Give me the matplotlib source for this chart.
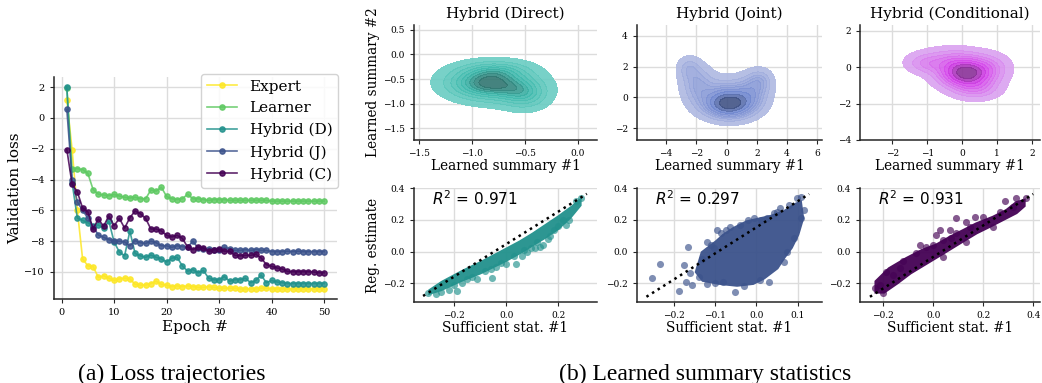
import numpy as np
import matplotlib
matplotlib.use("Agg")
import matplotlib.pyplot as plt
from matplotlib.colors import LinearSegmentedColormap

plt.rcParams['font.family'] = 'serif'
plt.rcParams['font.serif'] = ['DejaVu Serif']
plt.rcParams['mathtext.fontset'] = 'dejavusans'

# ---- loss trajectories ----
epochs = list(range(1, 51))
expert = [1.15, -2.05, -6.0, -9.15, -9.6, -9.65, -10.35, -10.25, -10.4, -10.55,
          -10.45, -10.4, -10.45, -10.8, -10.85, -10.85, -10.75, -10.6, -10.8, -10.85,
          -10.95, -10.9, -10.95, -10.9, -10.95, -11.0, -11.0, -10.95, -11.0, -11.05,
          -11.05, -11.05, -11.05, -11.1, -11.1, -11.1, -11.1, -11.05, -11.05, -11.1,
          -11.1, -11.1, -11.1, -11.1, -11.1, -11.1, -11.1, -11.1, -11.1, -11.1]
learner = [1.95, -3.3, -3.3, -3.35, -3.6, -4.65, -4.95, -5.0, -5.05, -4.97,
           -5.07, -5.15, -5.2, -5.15, -5.25, -5.25, -4.68, -4.75, -4.5, -5.1,
           -5.25, -5.3, -5.25, -4.95, -5.25, -5.25, -5.3, -5.35, -5.3, -5.3,
           -5.3, -5.35, -5.35, -5.35, -5.35, -5.35, -5.35, -5.35, -5.35, -5.4,
           -5.4, -5.4, -5.4, -5.4, -5.4, -5.4, -5.4, -5.4, -5.4, -5.4]
hybrid_d = [2.0, -4.2, -6.5, -6.65, -6.8, -7.0, -6.95, -7.15, -6.7, -8.05,
            -8.7, -8.95, -7.35, -8.8, -8.95, -9.05, -8.9, -9.05, -9.15, -9.35,
            -9.1, -9.05, -9.6, -9.95, -9.85, -10.05, -9.9, -10.4, -10.5, -10.5,
            -10.3, -10.6, -10.5, -10.5, -10.4, -10.7, -10.55, -10.2, -10.7, -10.55,
            -10.65, -10.7, -10.75, -10.75, -10.75, -10.75, -10.75, -10.75, -10.75, -10.75]
hybrid_j = [0.55, -4.0, -5.45, -6.0, -6.5, -7.05, -7.6, -7.75, -7.9, -8.0,
            -8.0, -8.05, -8.3, -7.97, -8.1, -8.15, -8.0, -8.1, -8.3, -8.3,
            -8.4, -8.3, -8.35, -8.4, -8.0, -8.45, -8.5, -8.5, -8.55, -8.55,
            -8.4, -8.5, -8.6, -8.6, -8.55, -8.6, -8.55, -8.6, -8.6, -8.68,
            -8.68, -8.68, -8.65, -8.68, -8.65, -8.68, -8.68, -8.68, -8.68, -8.68]
hybrid_c = [-2.05, -4.3, -4.8, -5.85, -6.1, -7.2, -6.56, -7.04, -6.35, -7.0,
            -6.52, -7.15, -6.48, -6.04, -6.22, -6.52, -7.21, -7.21, -7.34, -7.62,
            -7.73, -7.62, -7.82, -8.38, -8.55, -8.38, -8.45, -8.66, -8.55, -8.5,
            -8.66, -8.66, -8.92, -8.95, -8.92, -8.92, -8.85, -9.09, -9.52, -9.63,
            -9.74, -9.8, -9.96, -9.98, -9.98, -9.98, -9.98, -10.0, -10.05, -10.05]
loss_names = ['Expert', 'Learner', 'Hybrid (D)', 'Hybrid (J)', 'Hybrid (C)']
loss_colors = ['#fde725', '#5ec962', '#21918c', '#3b528b', '#440154']

# ---- learned summaries: density components (cx, cy, sx, sy, weight) ----
direct_kde = [(-0.77, -0.62, 0.24, 0.21, 1.0),
              (-1.00, -0.55, 0.20, 0.20, 0.30),
              (-0.50, -0.82, 0.14, 0.19, 0.27),
              (-0.76, -0.32, 0.20, 0.13, 0.22)]
joint_kde = [(0.15, -0.45, 1.1, 0.6, 1.0),
             (-1.9, 0.8, 0.7, 0.8, 0.30),
             (-2.5, 1.9, 0.5, 0.5, 0.08),
             (1.6, 0.4, 0.8, 0.7, 0.30),
             (2.2, 1.1, 0.55, 0.5, 0.10),
             (-0.2, 0.5, 0.8, 0.6, 0.15)]
cond_kde = [(0.1, -0.35, 0.5, 0.5, 1.0),
            (-1.1, 0.2, 0.35, 0.35, 0.10),
            (0.4, -1.2, 0.45, 0.4, 0.20),
            (-0.3, 0.4, 0.6, 0.45, 0.30),
            (0.8, 0.0, 0.4, 0.5, 0.15)]

# ---- regression estimates vs sufficient statistic ----
direct_core_x = [-0.30, -0.25, -0.17, -0.10, -0.03, 0.05, 0.10, 0.15, 0.20, 0.25, 0.29,
                 0.29, 0.25, 0.20, 0.15, 0.10, 0.05, 0.0, -0.05, -0.10, -0.17, -0.25, -0.30]
direct_core_y = [-0.24, -0.185, -0.115, -0.06, 0.0, 0.07, 0.12, 0.175, 0.23, 0.29, 0.345,
                 0.29, 0.21, 0.135, 0.08, 0.03, -0.02, -0.065, -0.105, -0.145, -0.19, -0.25, -0.275]
direct_pts_x = [-0.30, -0.252, -0.188, -0.112, -0.054, 0.036, 0.094, 0.13, 0.14, 0.183, 0.20, 0.22,
                0.286, 0.27, -0.20, -0.15, -0.08, -0.02, 0.03, 0.07, 0.12, 0.17, 0.24, -0.22,
                -0.13, -0.06, 0.0, 0.08, 0.16, 0.23, -0.27, -0.17, -0.04, 0.06, 0.11]
direct_pts_y = [-0.26, -0.253, -0.249, -0.173, -0.169, -0.078, 0.021, 0.031, 0.045, 0.137, 0.16, 0.2,
                0.34, 0.32, -0.21, -0.17, -0.12, -0.07, -0.03, 0.01, 0.06, 0.10, 0.20, -0.24,
                -0.16, -0.11, -0.08, 0.0, 0.08, 0.17, -0.27, -0.2, -0.1, -0.03, 0.02]

joint_core_x = [-0.15, -0.135, -0.10, -0.082, -0.057, -0.025, 0.034, 0.066, 0.091, 0.11,
                0.116, 0.104, 0.088, 0.07, 0.053, 0.02, -0.007, -0.047, -0.09, -0.132]
joint_core_y = [-0.13, 0.0, 0.07, 0.112, 0.155, 0.197, 0.232, 0.262, 0.305, 0.325,
                0.21, 0.105, 0.021, -0.042, -0.11, -0.175, -0.21, -0.222, -0.21, -0.19]
joint_pts_x = [-0.254, -0.234, -0.189, -0.177, -0.165, -0.161, -0.156, -0.17, -0.133, -0.104,
               -0.11, -0.096, -0.085, -0.064, -0.04, -0.007, 0.01, 0.042, 0.058, 0.078,
               0.099, 0.108, 0.107, 0.115, 0.074, 0.066, 0.091, -0.051, -0.08, -0.03,
               0.009, -0.10, 0.03, -0.14, -0.12, -0.12, -0.075, -0.02, 0.025, 0.05]
joint_pts_y = [-0.165, -0.08, -0.249, -0.085, 0.031, -0.137, -0.211, -0.19, -0.047, 0.021,
               0.04, 0.137, 0.12, 0.158, 0.17, 0.21, 0.2, 0.242, 0.274, 0.295,
               0.337, 0.346, 0.21, 0.26, 0.0, -0.064, 0.084, -0.257, -0.19, -0.22,
               -0.179, -0.2, -0.19, -0.16, -0.205, 0.06, 0.135, 0.2, 0.215, 0.25]

cond_core_x = [-0.235, -0.18, -0.11, -0.045, 0.01, 0.065, 0.118, 0.17, 0.237, 0.29, 0.33, 0.37,
               0.37, 0.336, 0.283, 0.23, 0.176, 0.11, 0.045, -0.022, -0.088, -0.14, -0.195, -0.235]
cond_core_y = [-0.185, -0.1, -0.035, 0.018, 0.05, 0.1, 0.142, 0.184, 0.226, 0.268, 0.318, 0.336,
               0.285, 0.238, 0.195, 0.152, 0.11, 0.047, -0.016, -0.08, -0.143, -0.205, -0.265, -0.265]
cond_pts_x = [-0.053, -0.027, 0.027, 0.067, 0.073, 0.093, 0.133, 0.147, 0.167, 0.213, 0.267,
              0.287, 0.333, 0.373, 0.32, 0.013, 0.04, -0.233, -0.213, -0.2, -0.16, -0.133,
              0.04, 0.133, 0.24, -0.19, -0.12, -0.07, 0.0, 0.09, 0.2]
cond_pts_y = [0.042, 0.031, 0.137, 0.137, 0.084, 0.21, 0.189, 0.158, 0.221, 0.189, 0.252,
              0.32, 0.337, 0.337, 0.284, 0.105, 0.074, -0.232, -0.211, -0.263, -0.148, -0.105,
              -0.032, 0.063, 0.158, -0.13, -0.06, -0.01, 0.04, 0.12, 0.22]

# dotted reference line ends (x0, x1, y0, y1)
direct_line = [-0.32, 0.31, -0.28, 0.365]
joint_line = [-0.267, 0.128, -0.285, 0.364]
cond_line = [-0.253, 0.40, -0.285, 0.364]

r2_values = [0.971, 0.297, 0.931]
titles = ['Hybrid (Direct)', 'Hybrid (Joint)', 'Hybrid (Conditional)']
panel_colors = ['#21918c', '#3b528b', '#440154']
# density fills: outer band -> middle -> peak
density_colors = [['#6fcfc5', '#3db8ab', '#2f6d69'],
                  ['#b4bde3', '#6f86cf', '#34446f'],
                  ['#dbaaf0', '#d540eb', '#7a2e86']]


def draw_density(ax, comps, xlim, ylim, colors):
    gx = np.linspace(xlim[0], xlim[1], 300)
    gy = np.linspace(ylim[0], ylim[1], 300)
    X, Y = np.meshgrid(gx, gy)
    Z = np.zeros_like(X)
    for cx, cy, sx, sy, w in comps:
        Z += w / (sx * sy) * np.exp(-0.5 * (((X - cx) / sx) ** 2 + ((Y - cy) / sy) ** 2))
    # iso-proportion levels, 5% .. 100%
    vals = np.sort(Z.ravel())[::-1]
    cum = np.cumsum(vals) / vals.sum()
    idx = np.searchsorted(cum, 1 - np.linspace(0.05, 1, 10))
    levels = np.take(vals, idx, mode='clip')
    cmap = LinearSegmentedColormap.from_list('dens', [(0, colors[0]), (0.65, colors[1]), (1, colors[2])])
    ax.contourf(X, Y, Z, levels=levels, cmap=cmap, alpha=0.9)


def style_axes(ax, tick_size):
    ax.grid(True, color='#dcdcdc', lw=1.0)
    ax.set_axisbelow(True)
    for side in ['top', 'right']:
        ax.spines[side].set_visible(False)
    for side in ['left', 'bottom']:
        ax.spines[side].set_color('#262626')
        ax.spines[side].set_linewidth(1.1)
    ax.tick_params(labelsize=tick_size, length=3, width=0.8, color='#262626')


fig = plt.figure(figsize=(10.42, 3.83), dpi=100)

# (a) loss trajectories
ax = fig.add_axes([0.0518, 0.2193, 0.2716, 0.5796])
for name, vals, col in zip(loss_names, [expert, learner, hybrid_d, hybrid_j, hybrid_c], loss_colors):
    ax.plot(epochs, vals, marker='o', ms=3.8, lw=1.2, color=col, alpha=0.85, label=name)
style_axes(ax, 7)
ax.set_xticks([0, 10, 20, 30, 40, 50])
ax.set_yticks([-10, -8, -6, -4, -2, 0, 2])
ax.set_xlabel('Epoch #', fontsize=11, labelpad=2)
ax.set_ylabel('Validation loss', fontsize=11, labelpad=2)
ax.legend(loc='upper right', bbox_to_anchor=(1.005, 1.015), borderaxespad=0,
          fontsize=11, framealpha=0.85)

# (b) learned summary statistics
cols_x = [(0.3973, 0.1756), (0.6113, 0.1775), (0.8253, 0.1727)]
kde_sets = [direct_kde, joint_kde, cond_kde]
kde_xlim = [(-1.547, 0.18), (-5.92, 6.3), (-2.92, 2.22)]
kde_ylim = [(-1.74, 0.6), (-2.76, 4.69), (-4.0, 2.31)]
kde_xticks = [[-1.5, -1.0, -0.5, 0.0], [-4, -2, 0, 2, 4, 6], [-2, -1, 0, 1, 2]]
kde_yticks = [[-1.5, -1.0, -0.5, 0.0, 0.5], [-2, 0, 2, 4], [-4, -2, 0, 2]]

cores = [(direct_core_x, direct_core_y), (joint_core_x, joint_core_y), (cond_core_x, cond_core_y)]
points = [(direct_pts_x, direct_pts_y), (joint_pts_x, joint_pts_y), (cond_pts_x, cond_pts_y)]
lines = [direct_line, joint_line, cond_line]
reg_xlim = [(-0.355, 0.349), (-0.29, 0.159), (-0.293, 0.427)]
reg_xticks = [[-0.2, 0.0, 0.2], [-0.2, -0.1, 0.0, 0.1], [-0.2, 0.0, 0.2, 0.4]]

for i in range(3):
    x0, w = cols_x[i]
    col = panel_colors[i]

    ax = fig.add_axes([x0, 0.6345, w, 0.3003])
    draw_density(ax, kde_sets[i], kde_xlim[i], kde_ylim[i], density_colors[i])
    ax.set_xlim(kde_xlim[i])
    ax.set_ylim(kde_ylim[i])
    ax.set_xticks(kde_xticks[i])
    ax.set_yticks(kde_yticks[i])
    style_axes(ax, 6.5)
    ax.set_title(titles[i], fontsize=11, pad=5)
    ax.set_xlabel('Learned summary #1', fontsize=9.8, labelpad=1)
    if i == 0:
        ax.set_ylabel('Learned summary #2', fontsize=9.8, labelpad=2)

    ax = fig.add_axes([x0, 0.2115, w, 0.2977])
    cx, cy = cores[i]
    ax.fill(cx, cy, color=col, alpha=0.95, lw=0, zorder=2)
    px, py = points[i]
    ax.scatter(px, py, s=26, color=col, alpha=0.65, lw=0, zorder=3)
    lx0, lx1, ly0, ly1 = lines[i]
    ax.plot([lx0, lx1], [ly0, ly1], ls=':', color='black', lw=1.8, zorder=4)
    ax.set_xlim(reg_xlim[i])
    ax.set_ylim(-0.318, 0.402)
    ax.set_xticks(reg_xticks[i])
    ax.set_yticks([-0.2, 0.0, 0.2, 0.4])
    style_axes(ax, 6.5)
    ax.set_xlabel('Sufficient stat. #1', fontsize=9.8, labelpad=1)
    if i == 0:
        ax.set_ylabel('Reg. estimate', fontsize=9.8, labelpad=2)
    ax.text(0.1, 0.985, '$R^2$ = %.3f' % r2_values[i], transform=ax.transAxes,
            family='DejaVu Sans', fontsize=11, va='top', ha='left')

fig.text(172 / 1042, 0.009, '(a) Loss trajectories', family='Liberation Serif',
         fontsize=17, ha='center', va='baseline')
fig.text(705 / 1042, 0.009, '(b) Learned summary statistics', family='Liberation Serif',
         fontsize=17, ha='center', va='baseline')

fig.savefig('out.png', dpi=100)
